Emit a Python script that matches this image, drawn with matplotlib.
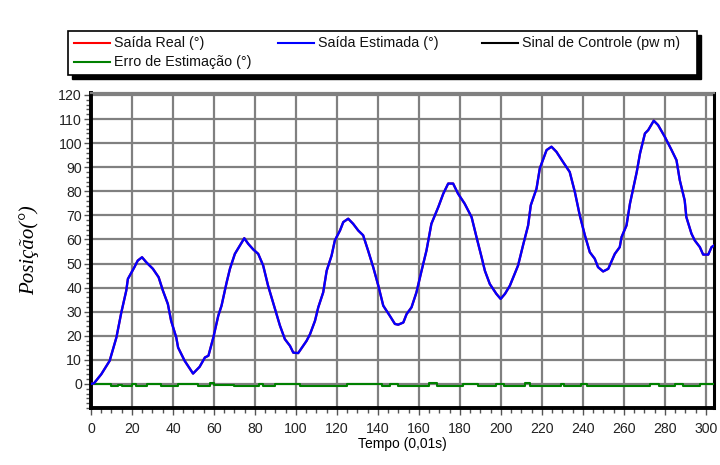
import numpy as np
import matplotlib.pyplot as plt
from matplotlib.lines import Line2D
from matplotlib.patches import Rectangle
from matplotlib.ticker import MultipleLocator

# pontos (tempo em 0,01s, posicao em graus)
tempo = [0, 1.5, 5, 9.1, 12.4, 14.8, 17.2, 18, 21.2, 22.8, 24.9, 27, 30.2, 33,
         35.1, 37.5, 39.1, 41.6, 42.5, 45.7, 47.3, 49.8, 53, 55.6, 57.3, 59.7,
         62.1, 63.7, 66.2, 67.8, 70.2, 72.7, 74.8, 76.7, 79.2, 81.6, 84, 86.4,
         89.8, 92.2, 94.6, 97.1, 98.7, 101.1, 105.2, 106.9, 109.3, 110.9, 113.3,
         115, 117.4, 119, 121.5, 123.1, 125.5, 127.9, 130.4, 132.8, 135.2,
         137.7, 140.2, 142.6, 145.8, 148.3, 149.9, 152.4, 154, 156.4, 158.8,
         161.3, 163.7, 166.1, 169.5, 171.9, 174.3, 176.7, 179.1, 182.3, 185.7,
         188.1, 190.6, 192.2, 194.6, 197.8, 199.9, 202, 204.4, 208.4, 210.8,
         213.3, 214.6, 217.4, 219, 222.3, 224.7, 227.1, 230.3, 233.6, 236.1,
         238.5, 241, 243.4, 245.8, 247.4, 249.9, 252.4, 255.6, 258, 258.9,
         261.3, 263, 266.3, 267.9, 270.3, 271.9, 274.6, 276.7, 280, 283.3,
         285.7, 287.3, 289.7, 290.5, 293, 294.6, 297.1, 298.7, 301.2, 302.8, 304]
saida_est = [0, 0.3, 4, 9.6, 19.3, 29.7, 38.7, 43.6, 48.5, 51.2, 52.6, 50.5, 47.8,
             44.3, 38.7, 33.2, 26.2, 19.3, 15.1, 9.6, 7.5, 4.3, 7.1, 11, 11.7,
             19.3, 28.3, 32.5, 42.2, 47.8, 54, 57.5, 60.5, 58.2, 55.8, 54, 49.2,
             40.8, 31.1, 24.2, 18.6, 15.8, 13, 12.8, 17.9, 20.7, 26.2, 31.8, 38,
             47, 53.3, 59.6, 63.7, 67.2, 68.6, 66.5, 63.7, 61.7, 55.4, 48.5, 40.8,
             32.5, 28.3, 24.9, 24.6, 25.5, 29, 31.8, 38, 47, 55.4, 66.5, 73.5, 79,
             83.2, 83.2, 79, 74.9, 69.3, 61, 52.6, 47, 41.5, 37.4, 35.3, 37.4, 40.8,
             49.2, 57.5, 65.8, 74.2, 81.1, 89.5, 97.1, 98.5, 96.4, 92.2, 88, 79.7,
             70, 61.7, 54.7, 52, 48.5, 46.7, 47.8, 54, 56.8, 61, 65.8, 74.9, 88,
             95.7, 104, 105.4, 109.3, 107.5, 102.6, 97.1, 92.9, 84.6, 76.2, 69.3,
             62.4, 59.6, 56.8, 53.7, 53.7, 56.8, 57.5]
saida_real = saida_est

erro_t = [0, 10, 13, 15, 20, 22, 27.5, 34.4, 42.4, 52.4, 58, 60, 66, 70, 82.2,
          84, 90, 102, 125, 141.8, 145.8, 149.8, 165, 169, 181.6, 188.6, 197.5,
          201.5, 212, 214, 229.3, 231, 239, 242, 273, 277, 285, 289, 297, 304]
erro_v = [0, -0.7, -0.3, -0.7, -0.2, -0.7, 0, -0.7, 0, -0.7, 0.2, -0.6, -0.3,
          -0.7, 0, -0.7, 0, -0.7, 0, -0.8, 0, -0.7, 0.3, -0.7, 0, -0.7, 0, -0.7,
          0.3, -0.7, 0, -0.7, 0, -0.7, 0, -0.7, 0, -0.7, 0, 0]

legenda = ["Saída Real (°)", "Saída Estimada (°)", "Sinal de Controle (pw m)",
           "Erro de Estimação (°)"]
cores = ['red', 'blue', 'black', '#008000']

plt.rcParams['font.family'] = ['Liberation Sans', 'DejaVu Sans']

W, H = 720, 465


def px(x, y):
    # pixel da figura -> fracao da figura
    return x / W, 1 - y / H


fig = plt.figure(figsize=(7.2, 4.65), dpi=100)
ax = fig.add_axes([91 / W, 1 - 408 / H, 623 / W, 315 / H])

ax.step(erro_t, erro_v, where='post', color='#008000', lw=1.5, zorder=3)
ax.plot(tempo, saida_real, color='red', lw=1.6, zorder=4)
ax.plot(tempo, saida_est, color='blue', lw=1.7, zorder=5)

ax.set_xlim(0, 304)
ax.set_ylim(-10, 120.8)
ax.xaxis.set_major_locator(MultipleLocator(20))
ax.xaxis.set_minor_locator(MultipleLocator(5))
ax.set_yticks(np.arange(0, 121, 10))
ax.yaxis.set_minor_locator(MultipleLocator(2))
ax.grid(True, which='major', color='#808080', lw=1.6)
ax.tick_params(which='both', direction='out', color='#555555', labelsize=10.2,
               labelcolor='#222222')
ax.tick_params(axis='y', pad=1.5)
ax.tick_params(axis='x', pad=5)
ax.tick_params(which='major', length=5, width=1)
ax.tick_params(which='minor', length=3.5, width=1)

for s in ['left', 'bottom']:
    ax.spines[s].set_linewidth(2.8)
ax.spines['right'].set_linewidth(2.2)
ax.spines['top'].set_color('#808080')
ax.spines['top'].set_linewidth(1.6)

ax.set_xlabel("Tempo (0,01s)", fontsize=10, labelpad=0.5)
ax.set_ylabel("Posição(°)", fontsize=15, style='italic',
              family=['Liberation Serif', 'DejaVu Serif'], labelpad=14)

# caixa da legenda com sombra preta
x0, y0, x1, y1 = 68, 31, 697, 75
fig.add_artist(Rectangle(px(x0 + 4, y1 + 4), (x1 - x0) / W, (y1 - y0) / H,
                         transform=fig.transFigure, facecolor='black',
                         edgecolor='black', zorder=10))
fig.add_artist(Rectangle(px(x0, y1), (x1 - x0) / W, (y1 - y0) / H,
                         transform=fig.transFigure, facecolor='white',
                         edgecolor='black', lw=1.2, zorder=11))
posicoes = [(74, 43), (278, 43), (482, 43), (74, 62)]
for (lx, ly), txt, c in zip(posicoes, legenda, cores):
    a, b = px(lx, ly)
    c2, _ = px(lx + 36, ly)
    fig.add_artist(Line2D([a, c2], [b, b], color=c, lw=1.5,
                          transform=fig.transFigure, zorder=12))
    fig.text(px(lx + 40, ly)[0], b, txt, fontsize=10.3, va='center',
             ha='left', color='#111111', zorder=12)

fig.savefig("out.png", dpi=100)
